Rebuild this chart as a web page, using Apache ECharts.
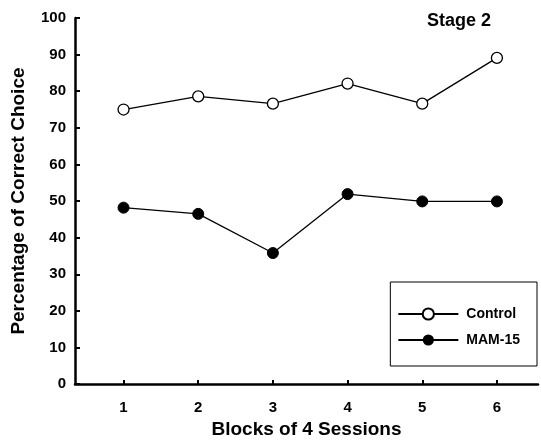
<!DOCTYPE html>
<html><head><meta charset="utf-8">
<script src="https://cdn.jsdelivr.net/npm/echarts@6/dist/echarts.min.js"></script>
<style>html,body{margin:0;padding:0;background:#fff}#c{width:541px;height:444px}</style>
</head><body><div id="c"></div>
<script>
const blocks = [1, 2, 3, 4, 5, 6];
const control = [75.0, 78.6, 76.6, 82.1, 76.6, 89.1];
const mam15 = [48.2, 46.5, 35.8, 51.9, 49.9, 49.9];
const yTicks = [0, 10, 20, 30, 40, 50, 60, 70, 80, 90, 100];

const font = 'Liberation Sans, Arial, sans-serif';
const chart = echarts.init(document.getElementById('c'));
chart.setOption({
  animation: false,
  backgroundColor: '#fff',
  title: {
    text: 'Stage 2', right: 45, top: 7,
    textStyle: { fontFamily: font, fontWeight: 'bold', fontSize: 18, color: '#000' }
  },
  legend: {
    orient: 'vertical', right: 4, top: 282,
    padding: [25, 17, 19, 7],
    itemGap: 12,
    borderColor: '#000', borderWidth: 1,
    itemWidth: 60, itemHeight: 14,
    textStyle: { fontFamily: font, fontWeight: 'bold', fontSize: 14, color: '#000', padding: [0, 0, 0, 3] },
    data: ['Control', 'MAM-15']
  },
  grid: { left: 75, right: 3, top: 18, bottom: 58 },
  xAxis: {
    type: 'value', min: 0.35, max: 6.55,
    interval: 1,
    name: 'Blocks of 4 Sessions', nameLocation: 'middle', nameGap: 33,
    nameTextStyle: { fontFamily: font, fontWeight: 'bold', fontSize: 19, color: '#000' },
    axisLine: { lineStyle: { color: '#000', width: 2.5 } },
    axisTick: { inside: true, length: 4, lineStyle: { color: '#000', width: 2 },
      customValues: blocks },
    axisLabel: { customValues: blocks, margin: 16, fontFamily: font, fontWeight: 'bold', fontSize: 15, color: '#000' },
    splitLine: { show: false }
  },
  yAxis: {
    type: 'value', min: 0, max: 100, interval: 10,
    name: 'Percentage of Correct Choice', nameLocation: 'middle', nameGap: 47,
    nameTextStyle: { fontFamily: font, fontWeight: 'bold', fontSize: 19, color: '#000' },
    axisLine: { show: true, lineStyle: { color: '#000', width: 2.5 } },
    axisTick: { show: true, inside: true, length: 5, lineStyle: { color: '#000', width: 2 } },
    axisLabel: { margin: 9, fontFamily: font, fontWeight: 'bold', fontSize: 15, color: '#000',
      formatter: v => yTicks.includes(v) ? String(v) : '' },
    splitLine: { show: false }
  },
  series: [
    {
      name: 'Control', type: 'line',
      data: blocks.map((b, i) => [b, control[i]]),
      symbol: 'circle', symbolSize: 11,
      lineStyle: { color: '#000', width: 1.3 },
      itemStyle: { color: '#fff', borderColor: '#000', borderWidth: 1.3 },
      z: 3
    },
    {
      name: 'MAM-15', type: 'line',
      data: blocks.map((b, i) => [b, mam15[i]]),
      symbol: 'circle', symbolSize: 11,
      lineStyle: { color: '#000', width: 1.3 },
      itemStyle: { color: '#000', borderColor: '#000' },
      z: 3
    }
  ]
});
</script></body></html>
